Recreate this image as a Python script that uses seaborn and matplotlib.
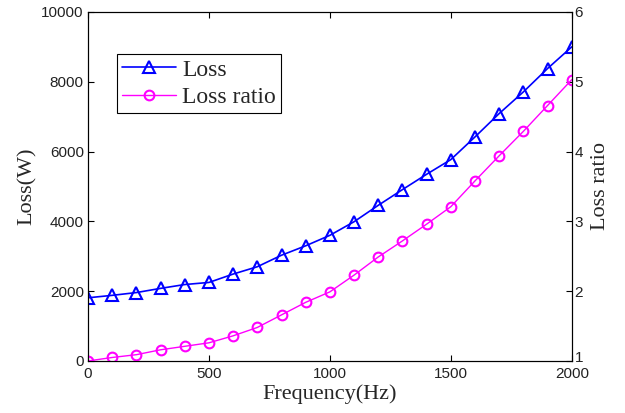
import matplotlib
matplotlib.use("Agg")
import matplotlib.pyplot as plt
import matplotlib.transforms as mtransforms
import seaborn as sns
import pandas as pd

freq = [0, 100, 200, 300, 400, 500, 600, 700, 800, 900, 1000,
        1100, 1200, 1300, 1400, 1500, 1600, 1700, 1800, 1900, 2000]
loss = [1810, 1880, 1960, 2080, 2190, 2250, 2490, 2700, 3030, 3300, 3600,
        3990, 4460, 4910, 5350, 5770, 6420, 7090, 7710, 8380, 9000]
loss_ratio = [1.0, 1.05, 1.09, 1.16, 1.21, 1.26, 1.36, 1.48, 1.66, 1.84, 1.99,
              2.23, 2.49, 2.72, 2.96, 3.21, 3.58, 3.94, 4.29, 4.66, 5.03]

df = pd.DataFrame({"freq": freq, "loss": loss, "ratio": loss_ratio})

sns.set_style("ticks")
plt.rcParams["font.family"] = ["Liberation Sans", "DejaVu Sans"]

fig = plt.figure(figsize=(6.25, 4.13), dpi=100)
ax = fig.add_axes([0.1408, 0.126, 0.774, 0.845])
ax2 = ax.twinx()

sns.lineplot(data=df, x="freq", y="loss", ax=ax, color="#0000ff", marker="^",
             markersize=8, markerfacecolor="none", markeredgecolor="#0000ff",
             markeredgewidth=1.5, linewidth=1.2, label="Loss", legend=False)
sns.lineplot(data=df, x="freq", y="ratio", ax=ax2, color="#ff00ff", marker="o",
             markersize=7, markerfacecolor="none", markeredgecolor="#ff00ff",
             markeredgewidth=1.5, linewidth=1.0, label="Loss ratio", legend=False)

ax.set_xlim(0, 2000)
ax.set_ylim(0, 10000)
ax2.set_ylim(1, 6)
ax.set_xticks([0, 500, 1000, 1500, 2000])
ax.set_yticks([0, 2000, 4000, 6000, 8000, 10000])
ax2.set_yticks([1, 2, 3, 4, 5, 6])

for a in (ax, ax2):
    for s in a.spines.values():
        s.set_visible(True)
        s.set_color("black")
        s.set_linewidth(0.8)
ax.tick_params(direction="in", length=4, width=0.8, labelsize=11, top=True,
               right=False, pad=3, colors="black")
ax.tick_params(axis="x", pad=4)
ax2.tick_params(direction="in", length=4, width=0.8, labelsize=11, pad=2, colors="black")
for lbl in ax.get_xticklabels() + ax.get_yticklabels() + ax2.get_yticklabels():
    lbl.set_color("#222222")

# lift the lowest right-axis label slightly, as in the reference
t0 = ax2.yaxis.get_major_ticks()[0].label2
t0.set_transform(t0.get_transform() +
                 mtransforms.ScaledTranslation(0, 3 / 72, fig.dpi_scale_trans))

serif = ["Liberation Serif", "DejaVu Serif"]
ax.set_xlabel("Frequency(Hz)", fontsize=16, family=serif, labelpad=3)
ax.set_ylabel("Loss(W)", fontsize=16, family=serif, labelpad=3)
ax2.set_ylabel("Loss ratio", fontsize=16, family=serif, labelpad=6)

h1, l1 = ax.get_legend_handles_labels()
h2, l2 = ax2.get_legend_handles_labels()
leg = ax.legend(h1 + h2, l1 + l2, loc="upper left", bbox_to_anchor=(0.059, 0.88),
                prop={"family": serif, "size": 17}, frameon=True, fancybox=False,
                edgecolor="black", framealpha=1, handlelength=2.3,
                borderpad=0.22, labelspacing=0.25, handletextpad=0.25,
                borderaxespad=0)
leg.get_frame().set_linewidth(0.8)

fig.savefig("out.png", dpi=100)
